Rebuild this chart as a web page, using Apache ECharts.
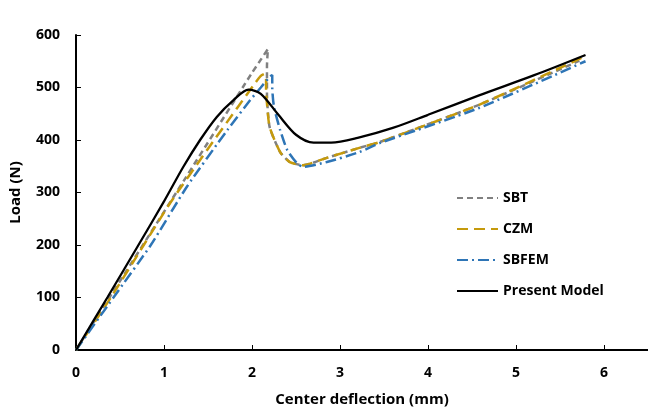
<!DOCTYPE html>
<html><head><meta charset="utf-8">
<script src="https://cdn.jsdelivr.net/npm/echarts@6/dist/echarts.min.js"></script>
<style>html,body{margin:0;padding:0;background:#fff}#c{width:648px;height:412px}</style>
</head><body><div id="c"></div>
<script>
const seriesNames = ['SBT', 'CZM', 'SBFEM', 'Present Model'];
const sbtX = [0, 1.14, 2.0, 2.1, 2.18, 2.17, 2.17, 2.2, 2.32, 2.43, 2.58, 2.85, 3.22, 3.45, 4.58, 5.72];
const sbtY = [0, 300, 528, 553, 573, 540, 490, 425, 377, 358, 352, 366, 385, 396, 467, 551];
const czmX = [0, 0.40, 0.77, 1.07, 1.49, 1.84, 2.02, 2.1, 2.14, 2.16, 2.16, 2.17, 2.2, 2.32, 2.43, 2.58, 2.85, 3.22, 3.45, 4.58, 5.75];
const czmY = [0, 101, 200, 280, 381, 463, 505, 522, 526, 515, 490, 470, 425, 377, 358, 352, 366, 385, 396, 467, 557];
const sbfemX = [0, 0.43, 0.85, 1.26, 1.72, 1.98, 2.1, 2.2, 2.23, 2.23, 2.25, 2.32, 2.40, 2.51, 2.58, 2.85, 3.22, 3.45, 4.58, 5.79];
const sbfemY = [0, 101, 200, 311, 419, 476, 500, 520, 524, 500, 463, 419, 381, 356, 349, 358, 377, 394, 461, 550];
const presentX = [0, 0.36, 0.71, 1.0, 1.22, 1.41, 1.6, 1.79, 1.96, 2.1, 2.3, 2.5, 2.7, 2.9, 3.2, 3.6, 4.0, 4.58, 5.2, 5.79];
const presentY = [0, 101, 200, 283, 349, 400, 444, 476, 496, 488, 448, 410, 395, 395, 404, 423, 448, 485, 523, 562];
const xTicks = [0, 1, 2, 3, 4, 5, 6];
const yTicks = [0, 100, 200, 300, 400, 500, 600];

const pairs = (xs, ys) => xs.map((x, i) => [x, ys[i]]);
const font = 'Open Sans';
const chart = echarts.init(document.getElementById('c'));
chart.setOption({
  animation: false,
  grid: {left: 75, right: 0, top: 35, bottom: 62},
  legend: {
    orient: 'vertical', left: 451, top: 186, itemWidth: 41, itemHeight: 14, itemGap: 17,
    itemStyle: {opacity: 0},
    textStyle: {fontFamily: font, fontWeight: 'bold', fontSize: 14, color: '#000'},
    data: seriesNames
  },
  xAxis: {
    type: 'value', min: 0, max: 6.5, interval: 1,
    name: 'Center deflection (mm)', nameLocation: 'middle', nameGap: 42,
    nameTextStyle: {fontFamily: font, fontWeight: 'bold', fontSize: 15, color: '#000'},
    axisLine: {show: true, lineStyle: {color: '#000', width: 2}},
    axisTick: {show: true, inside: true, length: 5, lineStyle: {color: '#000', width: 1}},
    axisLabel: {fontFamily: font, fontWeight: 'bold', fontSize: 14, color: '#000', margin: 16, showMaxLabel: false,
      formatter: v => xTicks.includes(v) ? String(v) : ''},
    splitLine: {show: false}
  },
  yAxis: {
    type: 'value', min: 0, max: 600, interval: 100,
    name: 'Load (N)', nameLocation: 'middle', nameGap: 53, nameMoveOverlap: false,
    nameTextStyle: {fontFamily: font, fontWeight: 'bold', fontSize: 15, color: '#000'},
    axisLine: {show: true, lineStyle: {color: '#000', width: 2}},
    axisTick: {show: true, inside: true, length: 5, lineStyle: {color: '#000', width: 1}},
    axisLabel: {fontFamily: font, fontWeight: 'bold', fontSize: 14, color: '#000', margin: 16,
      formatter: v => yTicks.includes(v) ? String(v) : ''},
    splitLine: {show: false}
  },
  series: [
    {name: 'SBT', type: 'line', symbol: 'none', smooth: 0.2, data: pairs(sbtX, sbtY),
      lineStyle: {color: '#808080', width: 2.5, type: [6, 4]}, itemStyle: {color: '#808080'}},
    {name: 'CZM', type: 'line', symbol: 'none', smooth: 0.2, data: pairs(czmX, czmY),
      lineStyle: {color: '#C59A0C', width: 2.5, type: [11, 6]}, itemStyle: {color: '#C59A0C'}},
    {name: 'SBFEM', type: 'line', symbol: 'none', smooth: 0.2, data: pairs(sbfemX, sbfemY),
      lineStyle: {color: '#2E75B6', width: 2.5, type: [11, 4, 2, 4]}, itemStyle: {color: '#2E75B6'}},
    {name: 'Present Model', type: 'line', symbol: 'none', smooth: 0.3, data: pairs(presentX, presentY),
      lineStyle: {color: '#000', width: 2.3, type: 'solid'}, itemStyle: {color: '#000'}}
  ]
});
</script></body></html>
